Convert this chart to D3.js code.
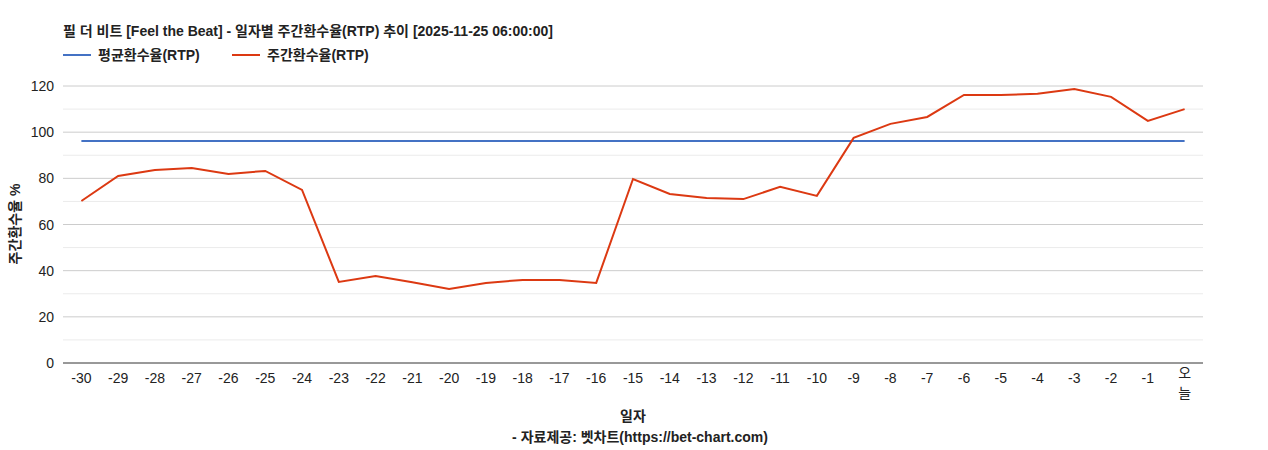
<!DOCTYPE html>
<html><head><meta charset="utf-8">
<script src="https://cdn.jsdelivr.net/npm/d3@7"></script>
<style>body{margin:0;background:#fff;} svg text{font-family:"Liberation Sans",Arial,"Noto Sans CJK KR",sans-serif;}</style>
</head><body><svg id="chart" width="1268" height="450"></svg>
<script>
var days = ["-30","-29","-28","-27","-26","-25","-24","-23","-22","-21","-20","-19","-18","-17","-16","-15","-14","-13","-12","-11","-10","-9","-8","-7","-6","-5","-4","-3","-2","-1","오늘"];
var weeklyRtp = [70.2,81,83.6,84.5,81.9,83.2,75,35.1,37.7,35,32.1,34.7,36,36,34.7,79.7,73.2,71.5,71,76.3,72.4,97.5,103.6,106.6,116.1,116.1,116.6,118.7,115.3,104.9,110];
var avgRtp = days.map(function() { return 96.2; });
var yTicks = [0,20,40,60,80,100,120];

var svg = d3.select('#chart');
var m = {left: 63, right: 1203, top: 86, bottom: 363};
var x = d3.scaleBand().domain(days).range([m.left, m.right]).paddingInner(0).paddingOuter(0);
var y = d3.scaleLinear().domain([0, 120]).range([m.bottom, m.top]);

// gridlines
svg.append('g').selectAll('line').data(d3.range(10, 121, 10)).join('line')
  .attr('x1', m.left).attr('x2', m.right)
  .attr('y1', function(d) { return y(d); }).attr('y2', function(d) { return y(d); })
  .attr('stroke', function(d) { return d % 20 == 0 ? '#cccccc' : '#ebebeb'; });
svg.append('line').attr('x1', m.left).attr('x2', m.right).attr('y1', y(0)).attr('y2', y(0)).attr('stroke', '#333');

svg.append('g').selectAll('text').data(yTicks).join('text')
  .attr('x', m.left - 9).attr('y', function(d) { return y(d) + 5; })
  .attr('text-anchor', 'end').attr('font-size', 14).attr('fill', '#222').text(function(d) { return d; });

var xl = svg.append('g').selectAll('text').data(days).join('text')
  .attr('x', function(d) { return x(d) + x.bandwidth() / 2; })
  .attr('y', 383).attr('text-anchor', 'middle').attr('font-size', 14).attr('fill', '#222');
xl.each(function(d) {
  var t = d3.select(this);
  if (d == '오늘') {
    t.attr('y', 378);
    t.append('tspan').attr('x', x(d) + x.bandwidth() / 2).attr('dy', 0).text('오');
    t.append('tspan').attr('x', x(d) + x.bandwidth() / 2).attr('dy', 20).text('늘');
  } else t.text(d);
});

var line = d3.line().x(function(d, i) { return x(days[i]) + x.bandwidth() / 2; }).y(function(d) { return y(d); });
svg.append('path').datum(avgRtp).attr('d', line).attr('fill', 'none').attr('stroke', '#4472c4').attr('stroke-width', 2);
svg.append('path').datum(weeklyRtp).attr('d', line).attr('fill', 'none').attr('stroke', '#dc3912').attr('stroke-width', 2);

// titles
svg.append('text').attr('x', 63).attr('y', 36).attr('font-size', 14).attr('font-weight', 'bold').attr('fill', '#222')
  .text('필 더 비트 [Feel the Beat] - 일자별 주간환수율(RTP) 추이 [2025-11-25 06:00:00]');
var leg = [{k: '평균환수율(RTP)', c: '#4472c4', x: 63}, {k: '주간환수율(RTP)', c: '#dc3912', x: 232}];
leg.forEach(function(l) {
  svg.append('line').attr('x1', l.x).attr('x2', l.x + 28).attr('y1', 55).attr('y2', 55).attr('stroke', l.c).attr('stroke-width', 2);
  svg.append('text').attr('x', l.x + 35).attr('y', 60).attr('font-size', 14).attr('font-weight', 'bold').attr('fill', '#222').text(l.k);
});
svg.append('text').attr('transform', 'translate(20,224) rotate(-90)').attr('text-anchor', 'middle')
  .attr('font-size', 14).attr('font-weight', 'bold').attr('fill', '#222').text('주간환수율 %');
svg.append('text').attr('x', 633).attr('y', 421).attr('text-anchor', 'middle').attr('font-size', 14).attr('font-weight', 'bold').attr('fill', '#222').text('일자');
svg.append('text').attr('x', 640).attr('y', 442).attr('text-anchor', 'middle').attr('font-size', 14).attr('font-weight', 'bold').attr('fill', '#222').text('- 자료제공: 벳차트(https://bet-chart.com)');
</script></body></html>
